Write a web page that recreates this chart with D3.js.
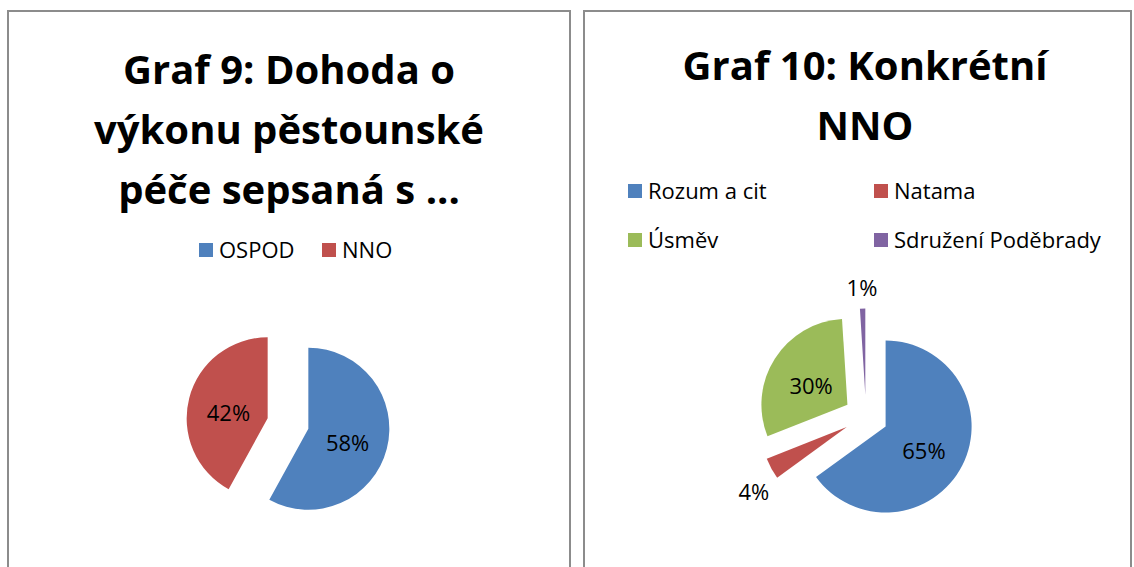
<!DOCTYPE html>
<html>
<head>
<meta charset="utf-8">
<script src="https://cdn.jsdelivr.net/npm/d3@7"></script>
<style>
  body{margin:0;background:#fff;}
  text{font-family:"Open Sans","Noto Sans",sans-serif;fill:#000;}
</style>
</head>
<body>
<div class="maintable"></div>
<script>
// Graf 9 data
var graf9Title = ["Graf 9: Dohoda o", "výkonu pěstounské", "péče sepsaná s ..."];
var graf9Labels = ["OSPOD", "NNO"];
var graf9Values = [58, 42];

// Graf 10 data
var graf10Title = ["Graf 10: Konkrétní", "NNO"];
var graf10Labels = ["Rozum a cit", "Natama", "Úsměv", "Sdružení Poděbrady"];
var graf10Values = [65, 4, 30, 1];

var colors = ["#4F81BD", "#C0504D", "#9BBB59", "#8064A2"];

var svg = d3.select(".maintable").append("svg")
  .attr("width", 1134)
  .attr("height", 567);

// okraje panelu
svg.append("rect")
  .attr("x", 8).attr("y", 11)
  .attr("width", 562).attr("height", 600)
  .attr("fill", "none").attr("stroke", "#8c8c8c").attr("stroke-width", 2);
svg.append("rect")
  .attr("x", 584).attr("y", 11)
  .attr("width", 547).attr("height", 600)
  .attr("fill", "none").attr("stroke", "#8c8c8c").attr("stroke-width", 2);

// nadpis
function drawTitle(lines, cx, y0){
  svg.append("g").selectAll("text")
    .data(lines)
    .join("text")
    .attr("x", cx)
    .attr("y", function(d, i){ return y0 + i * 60; })
    .attr("text-anchor", "middle")
    .attr("font-size", "40px")
    .attr("font-weight", "bold")
    .text(function(d){ return d; });
}

// kolac s vysunutymi vysecemi
function drawPie(values, cx, cy, r, explode){
  var pie = d3.pie().sort(null).value(function(d){ return d; });
  var arc = d3.arc().innerRadius(0).outerRadius(r);
  var total = d3.sum(values);
  var g = svg.append("g").attr("transform", "translate(" + cx + "," + cy + ")");

  pie(values).forEach(function(p, i){
    var mid = (p.startAngle + p.endAngle) / 2;
    var dx = Math.sin(mid), dy = -Math.cos(mid);
    g.append("path")
      .attr("d", arc(p))
      .attr("fill", colors[i])
      .attr("transform", "translate(" + dx * explode + "," + dy * explode + ")");

    var pct = Math.round(p.value / total * 100) + "%";
    var lx, ly;
    if(p.value / total < 0.05){
      // popisek venku
      lx = dx * (r + explode + 20);
      ly = dy * (r + explode + 20) + (dy > 0 ? 14 : 0);
    }else{
      lx = dx * (explode + r * 0.5);
      ly = dy * (explode + r * 0.5) + 5;
    }
    g.append("text")
      .attr("x", lx).attr("y", ly)
      .attr("dy", "0.35em")
      .attr("text-anchor", "middle")
      .attr("font-size", "22px")
      .text(pct);
  });
}

// legenda
function drawLegend(labels, pos){
  var g = svg.append("g");
  labels.forEach(function(l, i){
    g.append("rect")
      .attr("x", pos[i][0]).attr("y", pos[i][1] - 7)
      .attr("width", 14).attr("height", 14)
      .attr("fill", colors[i]);
    g.append("text")
      .attr("x", pos[i][0] + 20).attr("y", pos[i][1])
      .attr("dy", "0.35em")
      .attr("font-size", "22px")
      .text(l);
  });
}

// Graf 9
drawTitle(graf9Title, 289, 84);
drawLegend(graf9Labels, [[199, 250], [322, 250]]);
drawPie(graf9Values, 288, 423.5, 81, 21);

// Graf 10
drawTitle(graf10Title, 865, 80);
drawLegend(graf10Labels, [[628, 191], [874, 191], [628, 240], [874, 240]]);
drawPie(graf10Values, 866, 416.5, 86, 22);
</script>
</body>
</html>
